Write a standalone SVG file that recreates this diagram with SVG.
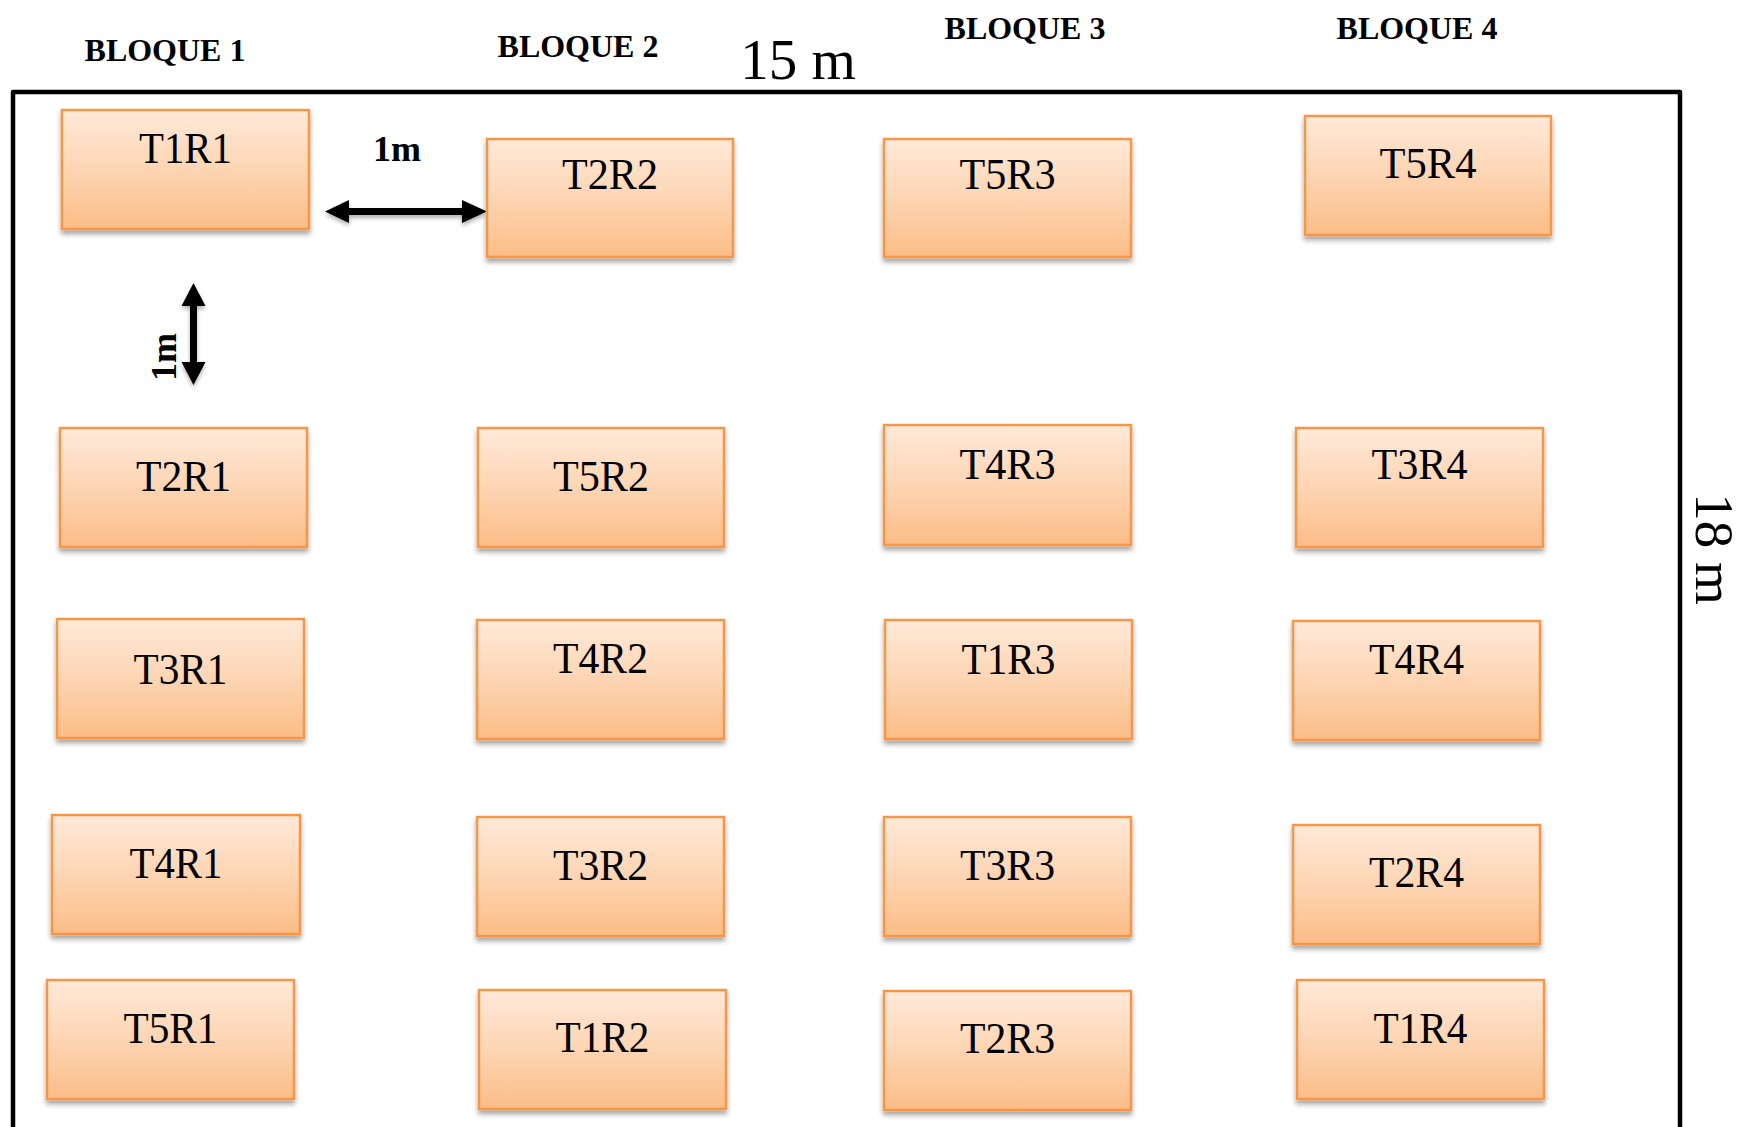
<svg xmlns="http://www.w3.org/2000/svg" width="1746" height="1127" viewBox="0 0 1746 1127">
<defs>
<linearGradient id="g" x1="0" y1="0" x2="0" y2="1">
<stop offset="0" stop-color="#FFE9D9"/>
<stop offset="0.5" stop-color="#FDD5B3"/>
<stop offset="1" stop-color="#FBBD87"/>
</linearGradient>
<filter id="sh" x="-10%" y="-10%" width="120%" height="130%">
<feDropShadow dx="0" dy="4" stdDeviation="2.5" flood-color="#000" flood-opacity="0.35"/>
</filter>
<filter id="ash" x="-10%" y="-30%" width="120%" height="160%">
<feDropShadow dx="0" dy="3" stdDeviation="2" flood-color="#000" flood-opacity="0.3"/>
</filter>
<style>
.b{fill:url(#g);stroke:#F79646;stroke-width:2.5;filter:url(#sh)}
.t{font-family:"Liberation Serif","Times New Roman",serif;font-size:44px;fill:#000;text-anchor:middle}
.h{font-family:"Liberation Serif","Times New Roman",serif;font-size:32px;font-weight:bold;fill:#000;text-anchor:middle}
.d{font-family:"Liberation Serif","Times New Roman",serif;font-size:57px;fill:#000;text-anchor:middle}
.m{font-family:"Liberation Serif","Times New Roman",serif;font-size:36px;font-weight:bold;fill:#000;text-anchor:middle}
</style>
</defs>
<rect width="1746" height="1127" fill="#fff"/>
<rect id="frame" x="13" y="92" width="1667" height="1060" fill="none" stroke="#000" stroke-width="4.5" stroke-linejoin="round"/>
<g id="labels">
<text class="h" x="165" y="61">BLOQUE 1</text>
<text class="h" x="578" y="57">BLOQUE 2</text>
<text class="h" x="1025" y="39">BLOQUE 3</text>
<text class="h" x="1417" y="39">BLOQUE 4</text>
<text class="d" x="798" y="79">15 m</text>
<text class="d" style="font-size:55px" transform="translate(1696,549) rotate(90)">18 m</text>
<text class="m" x="397" y="161">1m</text>
<text class="m" transform="translate(176,357) rotate(-90)">1m</text>
</g>
<g id="connectors" fill="#000" filter="url(#ash)">
<path d="M325,211.5 L349,200 L349,208 L462,208 L462,200 L487,211.5 L462,223 L462,215 L349,215 L349,223 Z"/>
<path d="M193.5,283 L205.5,306 L197,306 L197,362 L205.5,362 L193.5,385 L181.5,362 L190,362 L190,306 L181.5,306 Z"/>
</g>
<g id="T1R1"><rect class="b" x="62" y="110" width="247" height="119"/><text class="t" x="185.5" y="163" textLength="93" lengthAdjust="spacingAndGlyphs">T1R1</text></g>
<g id="T2R2"><rect class="b" x="487" y="139" width="246" height="118"/><text class="t" x="610" y="189" textLength="96" lengthAdjust="spacingAndGlyphs">T2R2</text></g>
<g id="T5R3"><rect class="b" x="884" y="139" width="247" height="118"/><text class="t" x="1007.5" y="189" textLength="96" lengthAdjust="spacingAndGlyphs">T5R3</text></g>
<g id="T5R4"><rect class="b" x="1305" y="116" width="246" height="119"/><text class="t" x="1428" y="178" textLength="97" lengthAdjust="spacingAndGlyphs">T5R4</text></g>
<g id="T2R1"><rect class="b" x="60" y="428" width="247" height="119"/><text class="t" x="183.5" y="491" textLength="95" lengthAdjust="spacingAndGlyphs">T2R1</text></g>
<g id="T5R2"><rect class="b" x="478" y="428" width="246" height="119"/><text class="t" x="601" y="491" textLength="96" lengthAdjust="spacingAndGlyphs">T5R2</text></g>
<g id="T4R3"><rect class="b" x="884" y="425" width="247" height="120"/><text class="t" x="1007.5" y="479" textLength="96" lengthAdjust="spacingAndGlyphs">T4R3</text></g>
<g id="T3R4"><rect class="b" x="1296" y="428" width="247" height="119"/><text class="t" x="1419.5" y="479" textLength="96" lengthAdjust="spacingAndGlyphs">T3R4</text></g>
<g id="T3R1"><rect class="b" x="57" y="619" width="247" height="119"/><text class="t" x="180.5" y="684" textLength="94" lengthAdjust="spacingAndGlyphs">T3R1</text></g>
<g id="T4R2"><rect class="b" x="477" y="620" width="247" height="119"/><text class="t" x="600.5" y="673" textLength="95" lengthAdjust="spacingAndGlyphs">T4R2</text></g>
<g id="T1R3"><rect class="b" x="885" y="620" width="247" height="119"/><text class="t" x="1008.5" y="674" textLength="94" lengthAdjust="spacingAndGlyphs">T1R3</text></g>
<g id="T4R4"><rect class="b" x="1293" y="621" width="247" height="119"/><text class="t" x="1416.5" y="674" textLength="95" lengthAdjust="spacingAndGlyphs">T4R4</text></g>
<g id="T4R1"><rect class="b" x="52" y="815" width="248" height="119"/><text class="t" x="176" y="878" textLength="93" lengthAdjust="spacingAndGlyphs">T4R1</text></g>
<g id="T3R2"><rect class="b" x="477" y="817" width="247" height="119"/><text class="t" x="600.5" y="880" textLength="95" lengthAdjust="spacingAndGlyphs">T3R2</text></g>
<g id="T3R3"><rect class="b" x="884" y="817" width="247" height="119"/><text class="t" x="1007.5" y="880" textLength="95" lengthAdjust="spacingAndGlyphs">T3R3</text></g>
<g id="T2R4"><rect class="b" x="1293" y="825" width="247" height="119"/><text class="t" x="1416.5" y="887" textLength="95" lengthAdjust="spacingAndGlyphs">T2R4</text></g>
<g id="T5R1"><rect class="b" x="47" y="980" width="247" height="119"/><text class="t" x="170.5" y="1043" textLength="94" lengthAdjust="spacingAndGlyphs">T5R1</text></g>
<g id="T1R2"><rect class="b" x="479" y="990" width="247" height="119"/><text class="t" x="602.5" y="1052" textLength="94" lengthAdjust="spacingAndGlyphs">T1R2</text></g>
<g id="T2R3"><rect class="b" x="884" y="991" width="247" height="119"/><text class="t" x="1007.5" y="1053" textLength="95" lengthAdjust="spacingAndGlyphs">T2R3</text></g>
<g id="T1R4"><rect class="b" x="1297" y="980" width="247" height="119"/><text class="t" x="1420.5" y="1043" textLength="94" lengthAdjust="spacingAndGlyphs">T1R4</text></g>
</svg>
